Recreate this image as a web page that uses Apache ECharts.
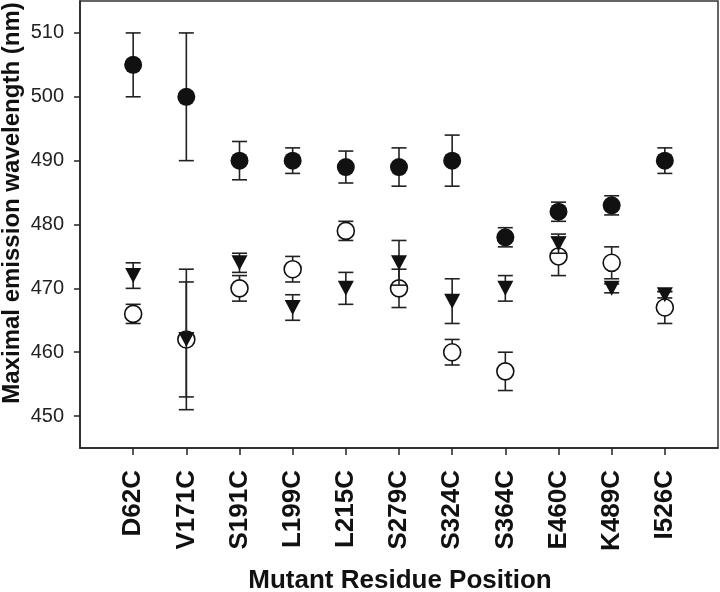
<!DOCTYPE html>
<html>
<head>
<meta charset="utf-8">
<script src="https://cdn.jsdelivr.net/npm/echarts@6/dist/echarts.min.js"></script>
<style>html,body{margin:0;padding:0;background:#fff}#c{width:720px;height:592px}</style>
</head>
<body>
<div id="c"></div>
<script>
const categories = ['D62C','V171C','S191C','L199C','L215C','S279C','S324C','S364C','E460C','K489C','I526C'];
const filledMean = [505,500,490,490,489,489,490,478,482,483,490];
const filledErr  = [5,10,3,2,2.5,3,4,1.5,1.5,1.5,2];
const triMean    = [472,462,474,467,470,474,468,470,477,470,469];
const triErr     = [2,9,1.5,2,2.5,3.5,3.5,2,1.5,0.7,0.5];
const openMean   = [466,462,470,473,479,470,460,457,475,474,467];
const openErr    = [1.5,11,2,2,1.5,3,2,3,3,2.5,2.5];
const yTicks = [450,460,470,480,490,500,510];
const xTitle = 'Mutant Residue Position';
const yTitle = 'Maximal emission wavelength (nm)';

const FONT = '"Liberation Sans", Arial, sans-serif';
const xPos = categories.map((c, i) => i + 1);

function errData(mean, err) { return mean.map((m, i) => [i + 1, m, err[i]]); }
function ptData(mean) { return mean.map((m, i) => [i + 1, m]); }

function renderErr(params, api) {
  const x = api.value(0), y = api.value(1), e = api.value(2);
  const t = api.coord([x, y + e]);
  const b = api.coord([x, y - e]);
  const hw = 7.5;
  const st = { stroke: '#222', lineWidth: 1.6 };
  return { type: 'group', children: [
    { type: 'line', shape: { x1: t[0], y1: t[1], x2: b[0], y2: b[1] }, style: st },
    { type: 'line', shape: { x1: t[0] - hw, y1: t[1], x2: t[0] + hw, y2: t[1] }, style: st },
    { type: 'line', shape: { x1: b[0] - hw, y1: b[1], x2: b[0] + hw, y2: b[1] }, style: st }
  ]};
}

const chart = echarts.init(document.getElementById('c'), null, { renderer: 'canvas' });
chart.setOption({
  animation: false,
  backgroundColor: '#fff',
  grid: { left: 80, right: 2, top: 1, bottom: 144, show: true, borderColor: '#333', borderWidth: 1.5, backgroundColor: 'transparent' },
  xAxis: {
    type: 'value', min: 0, max: 12,
    axisLine: { show: true, lineStyle: { color: '#222', width: 1.5 } },
    axisTick: { show: true, length: 7, lineStyle: { color: '#222', width: 1.5 }, customValues: xPos },
    axisLabel: { customValues: xPos, rotate: 90, margin: 22, fontFamily: FONT, fontWeight: 'bold', fontSize: 26, color: '#111',
      formatter: v => categories[Math.round(v) - 1] || '' },
    splitLine: { show: false }
  },
  yAxis: {
    type: 'value', min: 445, max: 515,
    axisLine: { show: true, lineStyle: { color: '#222', width: 1.5 } },
    axisTick: { show: true, length: 6, lineStyle: { color: '#222', width: 1.5 }, customValues: yTicks },
    axisLabel: { customValues: yTicks, margin: 16, fontFamily: FONT, fontSize: 20, color: '#222' },
    splitLine: { show: false }
  },
  graphic: [
    { type: 'text', x: 12, y: 203, rotation: Math.PI / 2,
      style: { text: yTitle, font: 'bold 24px ' + FONT, fill: '#111', textAlign: 'center', textVerticalAlign: 'middle' } },
    { type: 'text', x: 400, y: 581,
      style: { text: xTitle, font: 'bold 26px ' + FONT, fill: '#111', textAlign: 'center', textVerticalAlign: 'middle' } }
  ],
  series: [
    { type: 'custom', renderItem: renderErr, data: errData(openMean, openErr), z: 2 },
    { type: 'scatter', data: ptData(openMean), symbol: 'circle', symbolSize: 17, z: 3,
      itemStyle: { color: '#fff', borderColor: '#111', borderWidth: 1.6, opacity: 1 } },
    { type: 'custom', renderItem: renderErr, data: errData(triMean, triErr), z: 4 },
    { type: 'scatter', data: ptData(triMean), symbol: 'triangle', symbolRotate: 180, symbolSize: [16, 15], z: 5,
      itemStyle: { color: '#111', opacity: 1 } },
    { type: 'custom', renderItem: renderErr, data: errData(filledMean, filledErr), z: 6 },
    { type: 'scatter', data: ptData(filledMean), symbol: 'circle', symbolSize: 18, z: 7,
      itemStyle: { color: '#111', opacity: 1 } }
  ]
});
</script>
</body>
</html>
